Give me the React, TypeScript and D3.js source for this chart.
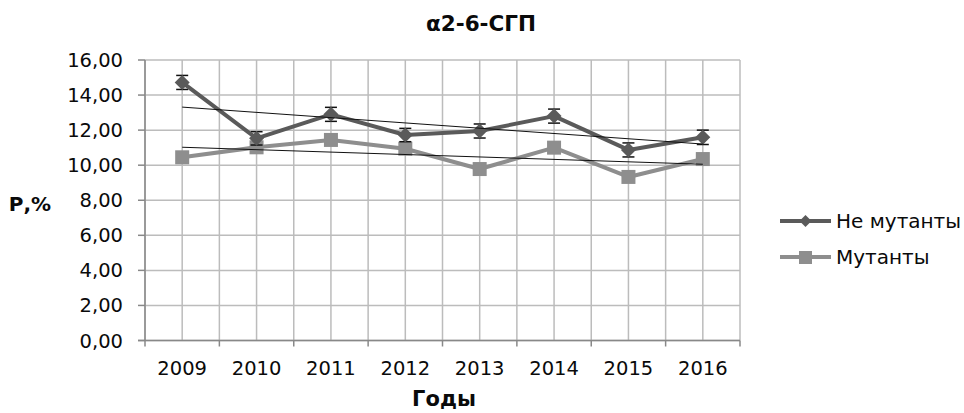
import React from "react";
import * as d3 from "d3";

const years = ["2009", "2010", "2011", "2012", "2013", "2014", "2015", "2016"];
const nonMutants = [14.72, 11.53, 12.9, 11.72, 11.95, 12.8, 10.87, 11.59];
const nonMutantsErr = [0.4, 0.38, 0.4, 0.38, 0.4, 0.4, 0.4, 0.41];
const mutants = [10.45, 11.02, 11.44, 10.94, 9.78, 11.0, 9.33, 10.35];
const yTicks = [0, 2, 4, 6, 8, 10, 12, 14, 16];

const W = 964;
const H = 413;
const plot = { left: 145, right: 740, top: 60, bottom: 340.5 };
const FONT = "'DejaVu Sans', Verdana, sans-serif";
const darkGray = "#5a5a5a";
const lightGray = "#8e8e8e";
const ink = "#0a0a0a";

function trend(vals: number[]): [number, number] {
  const xs = vals.map((_, i) => i);
  const mx = d3.mean(xs) as number;
  const my = d3.mean(vals) as number;
  const num = d3.sum(xs, (x, i) => (x - mx) * (vals[i] - my));
  const den = d3.sum(xs, (x) => (x - mx) ** 2);
  const slope = num / den;
  return [my - slope * mx, slope];
}

export default function App() {
  const x = d3.scaleBand<string>().domain(years).range([plot.left, plot.right]);
  const cx = (y: string) => (x(y) as number) + x.bandwidth() / 2;
  const y = d3.scaleLinear().domain([0, 16]).range([plot.bottom, plot.top]);

  const line = d3
    .line<number>()
    .x((_, i) => cx(years[i]))
    .y((v) => y(v));

  const vGrid: number[] = [];
  years.forEach((yr) => {
    vGrid.push(x(yr) as number);
    vGrid.push(cx(yr));
  });
  vGrid.push(plot.right);

  const [a1, b1] = trend(nonMutants);
  const [a2, b2] = trend(mutants);
  const n = years.length - 1;

  const diamond = (px: number, py: number, r: number) =>
    `M${px},${py - r}L${px + r},${py}L${px},${py + r}L${px - r},${py}Z`;

  return (
    <svg
      width={W}
      height={H}
      style={{ position: "absolute", left: 0, top: 0, background: "#fff" }}
    >
      <text
        x={481}
        y={31}
        textAnchor="middle"
        fontFamily={FONT}
        fontWeight="bold"
        fontSize={21.5}
        fill={ink}
      >
        α2-6-СГП
      </text>

      {/* gridlines */}
      {yTicks.map((t) => (
        <line
          key={"h" + t}
          x1={plot.left}
          x2={plot.right}
          y1={y(t)}
          y2={y(t)}
          stroke="#bcbcbc"
          strokeWidth={1.5}
        />
      ))}
      {vGrid.map((gx, i) => (
        <line
          key={"v" + i}
          x1={gx}
          x2={gx}
          y1={plot.top}
          y2={plot.bottom}
          stroke="#bcbcbc"
          strokeWidth={1.5}
        />
      ))}

      {/* axes */}
      <line x1={plot.left} x2={plot.left} y1={plot.top} y2={plot.bottom + 6} stroke="#888" strokeWidth={1.5} />
      <line x1={plot.left - 7} x2={plot.right} y1={plot.bottom} y2={plot.bottom} stroke="#888" strokeWidth={1.5} />
      {yTicks.map((t) => (
        <g key={"yt" + t}>
          <line x1={plot.left - 7} x2={plot.left} y1={y(t)} y2={y(t)} stroke="#888" strokeWidth={1.5} />
          <text
            x={123}
            y={y(t)}
            dy="0.36em"
            textAnchor="end"
            fontFamily={FONT}
            fontSize={19.5}
            fill={ink}
          >
            {t.toFixed(2).replace(".", ",")}
          </text>
        </g>
      ))}
      {years.map((yr) => (
        <g key={"xt" + yr}>
          <line
            x1={(x(yr) as number) + x.bandwidth()}
            x2={(x(yr) as number) + x.bandwidth()}
            y1={plot.bottom}
            y2={plot.bottom + 6}
            stroke="#888"
            strokeWidth={1.5}
          />
          <text x={cx(yr)} y={375} textAnchor="middle" fontFamily={FONT} fontSize={19.5} fill={ink}>
            {yr}
          </text>
        </g>
      ))}

      <text x={444} y={406} textAnchor="middle" fontFamily={FONT} fontWeight="bold" fontSize={21} fill={ink}>
        Годы
      </text>
      <text x={30} y={211} textAnchor="middle" fontFamily={FONT} fontWeight="bold" fontSize={20} fill={ink}>
        Р,%
      </text>

      {/* series */}
      <path d={line(mutants) as string} fill="none" stroke={lightGray} strokeWidth={4} strokeLinejoin="round" />
      {mutants.map((v, i) => (
        <rect key={"m" + i} x={cx(years[i]) - 7} y={y(v) - 7} width={14} height={14} fill={lightGray} />
      ))}

      {nonMutants.map((v, i) => {
        const px = cx(years[i]);
        const hi = y(v + nonMutantsErr[i]);
        const lo = y(v - nonMutantsErr[i]);
        return (
          <g key={"e" + i} stroke="#111" strokeWidth={1.5}>
            <line x1={px} x2={px} y1={hi} y2={lo} />
            <line x1={px - 6} x2={px + 6} y1={hi} y2={hi} />
            <line x1={px - 6} x2={px + 6} y1={lo} y2={lo} />
          </g>
        );
      })}
      <path d={line(nonMutants) as string} fill="none" stroke={darkGray} strokeWidth={4} strokeLinejoin="round" />
      {nonMutants.map((v, i) => (
        <path key={"n" + i} d={diamond(cx(years[i]), y(v), 7.5)} fill={darkGray} />
      ))}

      {/* linear trends */}
      <line x1={cx(years[0])} x2={cx(years[n])} y1={y(a1)} y2={y(a1 + b1 * n)} stroke="#111" strokeWidth={1} />
      <line x1={cx(years[0])} x2={cx(years[n])} y1={y(a2)} y2={y(a2 + b2 * n)} stroke="#111" strokeWidth={1} />

      {/* legend */}
      <line x1={780} x2={831} y1={221} y2={221} stroke={darkGray} strokeWidth={4} />
      <path d={diamond(805.5, 221, 6)} fill={darkGray} />
      <text x={836} y={221} dy="0.36em" fontFamily={FONT} fontSize={20} fill={ink}>
        Не мутанты
      </text>
      <line x1={780} x2={831} y1={257} y2={257} stroke={lightGray} strokeWidth={4} />
      <rect x={799} y={251} width={13} height={13} fill={lightGray} />
      <text x={836} y={257} dy="0.36em" fontFamily={FONT} fontSize={20} fill={ink}>
        Мутанты
      </text>
    </svg>
  );
}
